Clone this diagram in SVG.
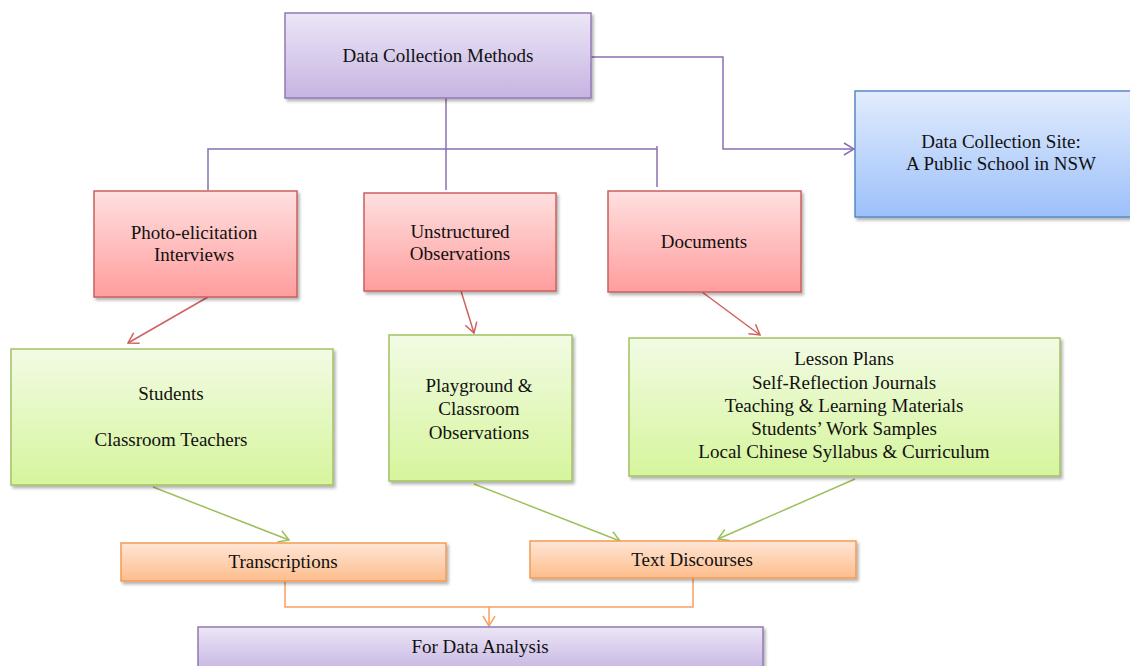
<svg xmlns="http://www.w3.org/2000/svg" width="1130" height="666" viewBox="0 0 1130 666" font-family="'Liberation Serif', 'Times New Roman', Times, serif">
<style>
  text { font-family: 'Liberation Serif', 'Times New Roman', Times, serif; font-size: 19px; fill: #111; text-anchor: middle; }
  .box { stroke-width: 1.5; filter: url(#sh); }
  .purple { fill: url(#gPurple); stroke: #9279b5; }
  .red { fill: url(#gRed); stroke: #c9605d; }
  .green { fill: url(#gGreen); stroke: #a3c263; }
  .blue { fill: url(#gBlue); stroke: #5a88c4; }
  .orange { fill: url(#gOrange); stroke: #f59a55; }
  .c { fill: none; stroke-width: 1.5; }
  .cp { stroke: #8a6fb3; }
  .cr { stroke: #d0615e; }
  .cg { stroke: #9cc05a; }
  .co { stroke: #f8a060; }
</style>
<defs>
  <filter id="sh" x="-5%" y="-5%" width="115%" height="120%">
    <feDropShadow dx="2" dy="2.5" stdDeviation="1.5" flood-color="#000" flood-opacity="0.3"/>
  </filter>
  <linearGradient id="gPurple" x1="0" y1="0" x2="0" y2="1">
    <stop offset="0" stop-color="#ece6f6"/><stop offset="1" stop-color="#c6b4e2"/>
  </linearGradient>
  <linearGradient id="gRed" x1="0" y1="0" x2="0" y2="1">
    <stop offset="0" stop-color="#ffe0e0"/><stop offset="1" stop-color="#ff9d9d"/>
  </linearGradient>
  <linearGradient id="gGreen" x1="0" y1="0" x2="0" y2="1">
    <stop offset="0" stop-color="#f2fbe4"/><stop offset="1" stop-color="#d6f59c"/>
  </linearGradient>
  <linearGradient id="gBlue" x1="0" y1="0" x2="0" y2="1">
    <stop offset="0" stop-color="#e2ecfd"/><stop offset="1" stop-color="#9cc0fa"/>
  </linearGradient>
  <linearGradient id="gOrange" x1="0" y1="0" x2="0" y2="1">
    <stop offset="0" stop-color="#ffe6d6"/><stop offset="1" stop-color="#fdbd8c"/>
  </linearGradient>
  <marker id="aP" markerUnits="userSpaceOnUse" markerWidth="12" markerHeight="14" refX="11" refY="7" orient="auto">
    <path d="M1,1 L11,7 L1,13" fill="none" stroke="#8a6fb3" stroke-width="1.5"/>
  </marker>
  <marker id="aR" markerUnits="userSpaceOnUse" markerWidth="12" markerHeight="14" refX="11" refY="7" orient="auto">
    <path d="M1,1 L11,7 L1,13" fill="none" stroke="#d0615e" stroke-width="1.5"/>
  </marker>
  <marker id="aG" markerUnits="userSpaceOnUse" markerWidth="12" markerHeight="14" refX="11" refY="7" orient="auto">
    <path d="M1,1 L11,7 L1,13" fill="none" stroke="#9cc05a" stroke-width="1.5"/>
  </marker>
  <marker id="aO" markerUnits="userSpaceOnUse" markerWidth="12" markerHeight="14" refX="11" refY="7" orient="auto">
    <path d="M1,1 L11,7 L1,13" fill="none" stroke="#f8a060" stroke-width="1.5"/>
  </marker>
</defs>

<g id="connectors">
  <path class="c cp" d="M591,57 H723 V149 H854" marker-end="url(#aP)"/>
  <path class="c cp" d="M446,98 V190"/>
  <path class="c cp" d="M208,190 V149 H657"/>
  <path class="c cp" d="M657,146 V187"/>
  <path class="c cr" d="M208,297 L128,343" marker-end="url(#aR)"/>
  <path class="c cr" d="M461,291 L474,333" marker-end="url(#aR)"/>
  <path class="c cr" d="M702,292 L760,335" marker-end="url(#aR)"/>
  <path class="c cg" d="M153,487 L289,540" marker-end="url(#aG)"/>
  <path class="c cg" d="M474,484 L620,541" marker-end="url(#aG)"/>
  <path class="c cg" d="M855,479 L718,539" marker-end="url(#aG)"/>
  <path class="c co" d="M285,581 V607 H693 V578"/>
  <path class="c co" d="M489,607 V626" marker-end="url(#aO)"/>
</g>

<g id="node-methods">
  <rect class="box purple" x="285" y="13" width="306" height="85"/>
  <text x="438" y="62">Data Collection Methods</text>
</g>
<g id="node-site">
  <rect class="box blue" x="855" y="91" width="276" height="126"/>
  <text x="1001" y="148">Data Collection Site:</text>
  <text x="1001" y="170">A Public School in NSW</text>
</g>
<g id="node-photo">
  <rect class="box red" x="94" y="191" width="203" height="106"/>
  <text x="194" y="239">Photo-elicitation</text>
  <text x="194" y="261">Interviews</text>
</g>
<g id="node-unstructured">
  <rect class="box red" x="364" y="193" width="192" height="98"/>
  <text x="460" y="238">Unstructured</text>
  <text x="460" y="260">Observations</text>
</g>
<g id="node-documents">
  <rect class="box red" x="608" y="191" width="193" height="101"/>
  <text x="704" y="248">Documents</text>
</g>
<g id="node-students">
  <rect class="box green" x="11" y="349" width="322" height="136"/>
  <text x="171" y="400">Students</text>
  <text x="171" y="446">Classroom Teachers</text>
</g>
<g id="node-playground">
  <rect class="box green" x="389" y="335" width="183" height="146"/>
  <text x="479" y="392">Playground &amp;</text>
  <text x="479" y="415">Classroom</text>
  <text x="479" y="439">Observations</text>
</g>
<g id="node-lessons">
  <rect class="box green" x="629" y="338" width="431" height="138"/>
  <text x="844" y="365">Lesson Plans</text>
  <text x="844" y="389">Self-Reflection Journals</text>
  <text x="844" y="412">Teaching &amp; Learning Materials</text>
  <text x="844" y="435">Students’ Work Samples</text>
  <text x="844" y="458">Local Chinese Syllabus &amp; Curriculum</text>
</g>
<g id="node-transcriptions">
  <rect class="box orange" x="121" y="543" width="325" height="38"/>
  <text x="283" y="568">Transcriptions</text>
</g>
<g id="node-discourses">
  <rect class="box orange" x="530" y="541" width="326" height="37"/>
  <text x="692" y="566">Text Discourses</text>
</g>
<g id="node-analysis">
  <rect class="box purple" x="198" y="627" width="565" height="45"/>
  <text x="480" y="653">For Data Analysis</text>
</g>
</svg>
